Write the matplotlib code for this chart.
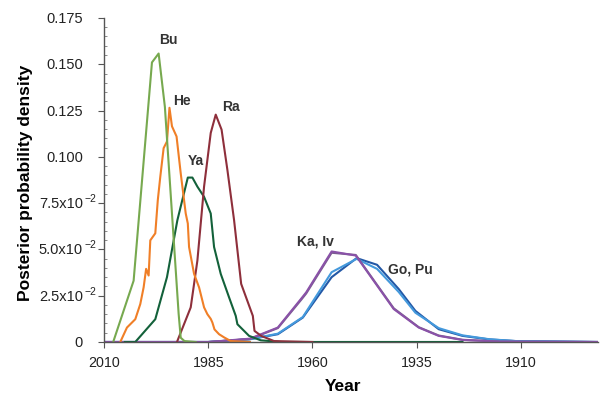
import matplotlib
matplotlib.use("Agg")
import matplotlib.pyplot as plt
from matplotlib.ticker import MultipleLocator
from matplotlib.transforms import offset_copy

plt.rcParams['font.family'] = ['Liberation Sans', 'DejaVu Sans']

# posterior densities (year, density)
bu_years = [2007.8, 2002.9, 1998.5, 1996.9, 1995.4, 1992.1, 1991.6, 1990.7, 1988.0]
bu_vals = [0, 0.0331, 0.151, 0.1558, 0.127, 0.0152, 0.0023, 0.0005, 0]

he_years = [2006.1, 2004.5, 2002.5, 2001.3, 2000.5, 1999.9, 1999.3, 1998.9, 1997.7,
            1997.1, 1996.5, 1995.7, 1994.9, 1994.3, 1993.7, 1992.6, 1991.6, 1990.4,
            1989.9, 1989.6, 1988.4, 1987.2, 1986.0, 1985.2, 1984.4, 1984.0, 1983.5,
            1982.4, 1981.2, 1979.6, 1975.0]
he_vals = [0, 0.0078, 0.0123, 0.0205, 0.0295, 0.0395, 0.0359, 0.0549, 0.0587,
           0.0766, 0.0893, 0.1047, 0.1083, 0.1265, 0.1165, 0.111, 0.0911, 0.0694,
           0.064, 0.0513, 0.0368, 0.0295, 0.0187, 0.015, 0.0125, 0.0105, 0.0068,
           0.0042, 0.0025, 0.0005, 0]

ya_years = [2005.0, 2002.5, 1997.7, 1994.9, 1992.4, 1989.9, 1988.8, 1987.6, 1986.0,
            1984.4, 1983.6, 1982.0, 1980.0, 1978.4, 1978.0, 1976.8, 1975.2, 1972.4,
            1967.5, 1924.0]
ya_vals = [0, 0, 0.0123, 0.035, 0.0658, 0.0888, 0.0888, 0.0839, 0.0784,
           0.0694, 0.0513, 0.0368, 0.0241, 0.0141, 0.0096, 0.0069, 0.0033, 0.0009,
           0, 0]

ra_years = [1992.5, 1989.2, 1987.6, 1986.0, 1984.4, 1983.2, 1981.8, 1980.4, 1978.8,
            1977.1, 1974.3, 1973.9, 1972.3, 1969.2, 1960.0]
ra_vals = [0, 0.0187, 0.044, 0.0839, 0.1129, 0.1228, 0.1147, 0.0929, 0.0658,
           0.0314, 0.0141, 0.006, 0.0033, 0.0005, 0]

ka_years = [2010, 1985, 1975.0, 1968.3, 1962.7, 1961.5, 1955.4, 1949.6, 1940.5,
            1934.5, 1929.7, 1924.0, 1915.0, 1891.5]
ka_vals = [0, 0, 0.0018, 0.0078, 0.0234, 0.0268, 0.0489, 0.0467, 0.0178,
           0.0078, 0.0033, 0.0011, 0.0002, 0]
iv_vals = [0, 0, 0.0016, 0.0075, 0.0228, 0.0262, 0.0482, 0.0470, 0.0182,
           0.0080, 0.0035, 0.0012, 0.0002, 0]

go_years = [2010, 1985, 1975.0, 1968.3, 1962.3, 1955.4, 1949.4, 1944.5, 1939.3,
            1935.3, 1929.7, 1924.0, 1917.6, 1911.2, 1891.5]
go_vals = [0, 0, 0.0015, 0.0042, 0.0132, 0.035, 0.0453, 0.0417, 0.0286,
           0.0168, 0.0069, 0.0033, 0.0014, 0.0005, 0]
pu_vals = [0, 0, 0.0015, 0.0045, 0.0135, 0.0377, 0.0449, 0.0395, 0.0270,
           0.0158, 0.0075, 0.0036, 0.0015, 0.0005, 0]

xticks = [2010, 1985, 1960, 1935, 1910]
yticks = [0, 0.025, 0.05, 0.075, 0.1, 0.125, 0.15, 0.175]
ytick_base = ['0', '2.5x10', '5.0x10', '7.5x10', '0.100', '0.125', '0.150', '0.175']
ytick_exp = ['', '\u22122', '\u22122', '\u22122', '', '', '', '']

fig = plt.figure(figsize=(6.02, 3.95), dpi=100)
ax = fig.add_axes([0.1728, 0.1342, 0.8205, 0.8203])

lw = 1.5
ax.plot(go_years, go_vals, color='#2358a6', lw=lw)
ax.plot(go_years, pu_vals, color='#4499dc', lw=lw)
ax.plot(ka_years, iv_vals, color='#7a5f8e', lw=lw)
ax.plot(ka_years, ka_vals, color='#8a52a8', lw=lw)
ax.plot(ya_years, ya_vals, color='#13613a', lw=lw)
ax.plot(ra_years, ra_vals, color='#8e2f3b', lw=lw)
ax.plot(he_years, he_vals, color='#f07f27', lw=lw)
ax.plot(bu_years, bu_vals, color='#77a94f', lw=lw)

lab = dict(fontsize=10, fontweight='bold', color='#333333', ha='center', va='center')
ax.text(1994.55, 0.1631, 'Bu', **lab)
ax.text(1991.2, 0.1301, 'He', **lab)
ax.text(1979.6, 0.1269, 'Ra', **lab)
ax.text(1988.0, 0.0977, 'Ya', **lab)
ax.text(1959.4, 0.0545, 'Ka, Iv', **lab)
ax.text(1936.4, 0.0389, 'Go, Pu', **lab)

ax.set_xlim(2010, 1891.5)
ax.set_ylim(0, 0.175)

ax.set_xticks(xticks)
ax.set_xticklabels([str(t) for t in xticks])
ax.set_yticks(yticks)
ax.set_yticklabels([])
ax.yaxis.set_minor_locator(MultipleLocator(0.005))

# y tick labels: base right-aligned, exponent hanging to the right
base_tr = offset_copy(ax.get_yaxis_transform(), fig=fig, x=-21, y=-1, units='dots')
exp_tr = offset_copy(ax.get_yaxis_transform(), fig=fig, x=-20, y=4, units='dots')
for yv, b, e in zip(yticks, ytick_base, ytick_exp):
    ax.text(0, yv, b, transform=base_tr, ha='right', va='center',
            fontsize=10.5, color='#222222')
    if e:
        ax.text(0, yv, e, transform=exp_tr, ha='left', va='center',
                fontsize=7.5, color='#222222')

for s in ['top', 'right']:
    ax.spines[s].set_visible(False)
for s in ['left', 'bottom']:
    ax.spines[s].set_color('#555555')
    ax.spines[s].set_linewidth(1.0)

ax.tick_params(axis='both', which='major', direction='out', length=4,
               color='#555555', labelsize=10.3, labelcolor='#222222')
ax.tick_params(axis='y', which='minor', direction='in', length=2, color='#777777')
ax.tick_params(axis='x', pad=6)

ax.set_xlabel('Year', fontsize=12.5, fontweight='bold')
ax.xaxis.set_label_coords(0.484, -0.115)
ax.set_ylabel('Posterior probability density', fontsize=12.5, fontweight='bold')
ax.yaxis.set_label_coords(-0.143, 0.49)

fig.savefig('out.png', dpi=100)
